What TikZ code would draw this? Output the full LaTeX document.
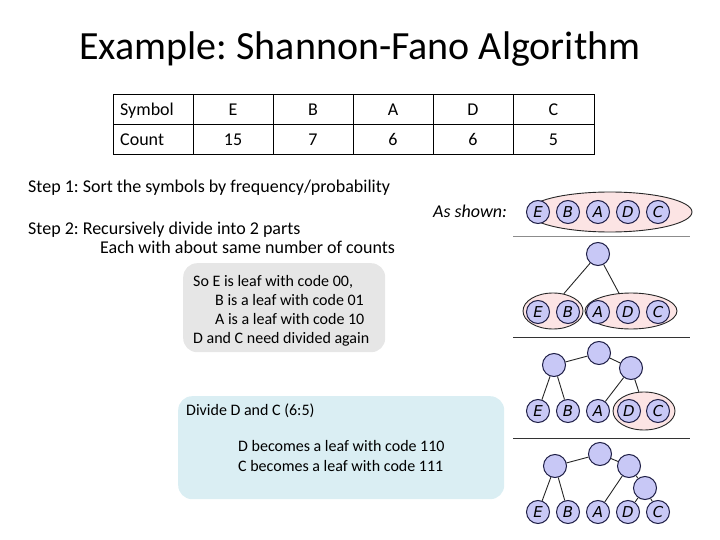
\documentclass[tikz,border=0pt]{standalone}
\usepackage{fontspec}
\setmainfont{Carlito}
\newfontfamily\leaffont{DejaVu Sans}
\usetikzlibrary{shapes.geometric}
\definecolor{leaffill}{HTML}{C8C8F6}
\definecolor{leafdraw}{HTML}{1E1E46}
\definecolor{ellfill}{HTML}{FCE4E4}
\definecolor{graybox}{HTML}{E6E6E6}
\definecolor{bluebox}{HTML}{DAEEF3}
\tikzset{
  leaf/.style={circle, draw=leafdraw, fill=leaffill, line width=1pt, minimum size=23pt, inner sep=0pt, font=\leaffont\itshape\fontsize{15}{15}\selectfont},
  inner/.style={circle, draw=leafdraw, fill=leaffill, line width=1pt, minimum size=23pt, inner sep=0pt},
  grp/.style={ellipse, draw=black!85, fill=ellfill, line width=0.9pt, inner sep=0pt},
  edge/.style={draw=black!85, line width=0.9pt},
  sep/.style={line width=1pt},
  txt/.style={inner sep=0pt, anchor=base west, font=\fontsize{18}{20}\selectfont},
  boxtxt/.style={inner sep=0pt, anchor=base west, font=\fontsize{16}{18}\selectfont},
  cell/.style={inner sep=0pt, anchor=base, font=\fontsize{18}{20}\selectfont},
  box/.style={rounded corners=14pt, inner sep=0pt, anchor=north west}
}
\frenchspacing
\begin{document}
\begin{tikzpicture}[x=1pt,y=-1pt]
\useasboundingbox (0,0) rectangle (720,540);
% title
\node[inner sep=0pt, anchor=base, font=\fontsize{40}{44}\selectfont] (title) at (360,60) {Example: Shannon-Fano Algorithm};
% table
\draw[line width=1pt] (113,95) rectangle (594,155);
\draw[line width=1pt] (113,125) -- (594,125);
\foreach \x in {193,273,353,433,513} \draw[line width=1pt] (\x,95) -- (\x,155);
\node[txt] (hsym) at (120,116) {Symbol};
\node[txt] (hcnt) at (120,146) {Count};
\node[cell] (sE) at (233,116) {E};
\node[cell] (sB) at (313,116) {B};
\node[cell] (sA) at (393,116) {A};
\node[cell] (sD) at (473,116) {D};
\node[cell] (sC) at (553.5,116) {C};
\node[cell] (cE) at (233,146) {15};
\node[cell] (cB) at (313,146) {7};
\node[cell] (cA) at (393,146) {6};
\node[cell] (cD) at (473,146) {6};
\node[cell] (cC) at (553.5,146) {5};
% steps
\node[txt] (step1) at (28,193) {Step 1: Sort the symbols by frequency/probability};
\node[txt] (step2) at (28,234) {Step 2: Recursively divide into 2 parts};
\node[txt] (step2b) at (100,254) {Each with about same number of counts};
\node[txt, font=\fontsize{18}{20}\selectfont\itshape] (shown) at (433,218) {As shown:};
% gray box
\node[box, fill=graybox, minimum width=202pt, minimum height=89pt] (gbox) at (183,263) {};
\node[boxtxt] (g1) at (193,286) {So E is leaf with code 00,};
\node[boxtxt] (g2) at (215,305) {B is a leaf with code 01};
\node[boxtxt] (g3) at (215,324) {A is a leaf with code 10};
\node[boxtxt] (g4) at (193,343) {D and C need divided again};
% blue box
\node[box, fill=bluebox, minimum width=326pt, minimum height=103pt] (bbox) at (178,396) {};
\node[boxtxt] (b1) at (186,415) {Divide D and C (6:5)};
\node[boxtxt] (b2) at (238,451) {D becomes a leaf with code 110};
\node[boxtxt] (b3) at (238,471) {C becomes a leaf with code 111};
% separators
\coordinate (s1a) at (513,236); \coordinate (s1b) at (690,236);
\coordinate (s2a) at (513,337); \coordinate (s2b) at (690,337);
\coordinate (s3a) at (513,438); \coordinate (s3b) at (690,438);
\draw[sep, black!45] (s1a) -- (s1b);
\draw[sep, black!80] (s2a) -- (s2b);
\draw[sep, black!80] (s3a) -- (s3b);
% panel 1
\node[grp, minimum width=164pt, minimum height=40pt] (e1) at (610,212) {};
\node[leaf] (p1E) at (538,212) {E};
\node[leaf] (p1B) at (568,212) {B};
\node[leaf] (p1A) at (598,212) {A};
\node[leaf] (p1D) at (628,212) {D};
\node[leaf] (p1C) at (658,212) {C};
% panel 2
\node[inner] (p2r) at (598,254) {};
\node[grp, minimum width=60pt, minimum height=36pt] (e2L) at (553,311) {};
\node[grp, minimum width=92pt, minimum height=36pt] (e2R) at (631,311) {};
\draw[edge] (p2r) -- (e2L.58);
\draw[edge] (p2r) -- (e2R.124);
\node[leaf] (p2E) at (538,312) {E};
\node[leaf] (p2B) at (568,312) {B};
\node[leaf] (p2A) at (598,312) {A};
\node[leaf] (p2D) at (628,312) {D};
\node[leaf] (p2C) at (658,312) {C};
% panel 3
\node[inner] (p3r) at (599,353) {};
\node[inner] (p3L) at (554,365) {};
\node[inner] (p3R) at (631,368) {};
\node[grp, minimum width=62pt, minimum height=38pt] (e3) at (644,411) {};
\draw[edge] (p3r) -- (p3L);
\draw[edge] (p3r) -- (p3R);
\node[leaf] (p3E) at (538,411) {E};
\node[leaf] (p3B) at (568,411) {B};
\node[leaf] (p3A) at (598,411) {A};
\node[leaf] (p3D) at (629,411) {D};
\node[leaf] (p3C) at (658,411) {C};
\draw[edge] (p3L) -- (p3E);
\draw[edge] (p3L) -- (p3B);
\draw[edge] (p3R) -- (p3A);
\draw[edge] (p3R) -- (e3.105);
% panel 4
\node[inner] (p4r) at (600,454) {};
\node[inner] (p4L) at (555,466) {};
\node[inner] (p4R) at (629,466) {};
\node[inner] (p4G) at (645,488) {};
\node[leaf] (p4E) at (538,512) {E};
\node[leaf] (p4B) at (568,512) {B};
\node[leaf] (p4A) at (598,512) {A};
\node[leaf] (p4D) at (628,512) {D};
\node[leaf] (p4C) at (658,512) {C};
\draw[edge] (p4r) -- (p4L);
\draw[edge] (p4r) -- (p4R);
\draw[edge] (p4L) -- (p4E);
\draw[edge] (p4L) -- (p4B);
\draw[edge] (p4R) -- (p4A);
\draw[edge] (p4R) -- (p4G);
\draw[edge] (p4G) -- (p4D);
\draw[edge] (p4G) -- (p4C);
\end{tikzpicture}
\end{document}
